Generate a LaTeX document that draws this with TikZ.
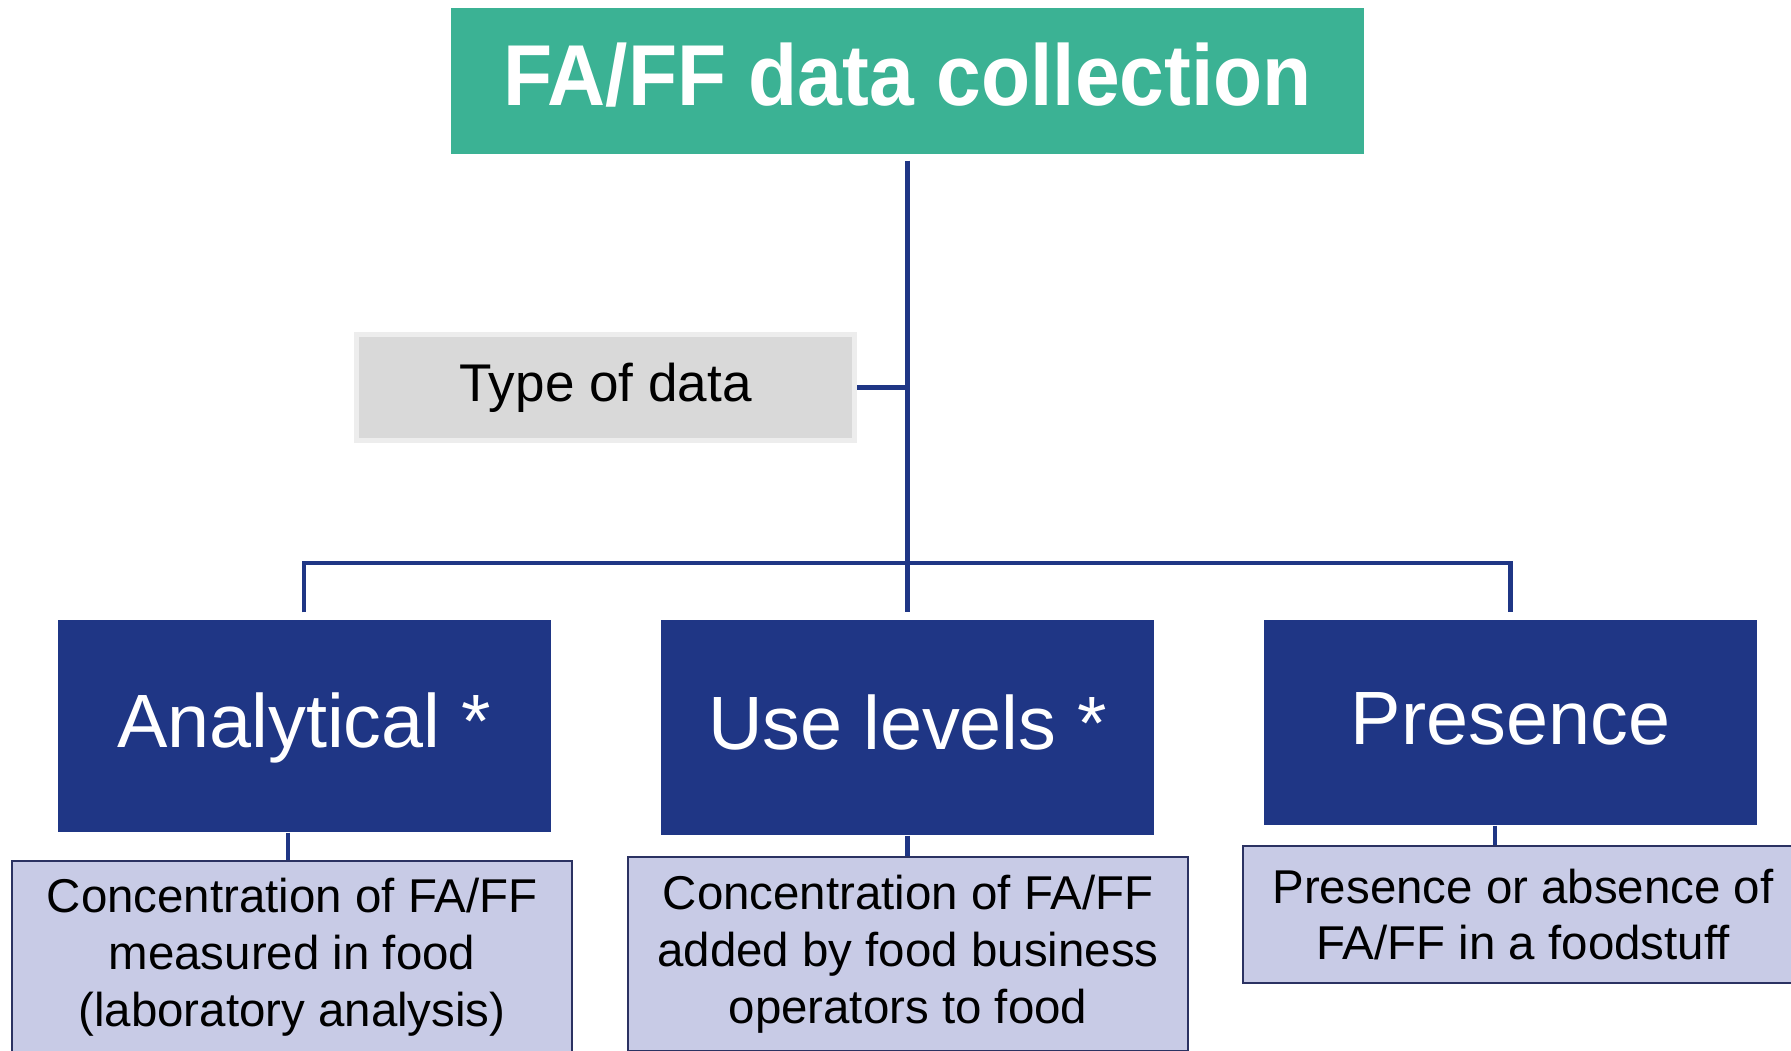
\documentclass[tikz,border=0pt]{standalone}
\usepackage{fontspec}
\setmainfont{Liberation Sans}
\newfontfamily\headfont{Liberation Sans}[FakeStretch=0.93]
\definecolor{faGreen}{HTML}{3BB294}
\definecolor{faBlue}{HTML}{1F3685}
\definecolor{faLilac}{HTML}{C8CBE6}
\definecolor{faNavy}{HTML}{2B3262}
\definecolor{faGrey}{HTML}{D9D9D9}
\definecolor{faGreyRim}{HTML}{EDEDED}
\begin{document}
\begin{tikzpicture}[
    link/.style={draw=faBlue, line width=1.2pt},
    kind/.style={fill=faBlue, text=white, minimum width=4.93cm, text height=15.5pt, text depth=3.2pt, font=\fontsize{21.5}{25}\selectfont},
    desc/.style={fill=faLilac, draw=faNavy, line width=0.6pt, minimum width=5.6cm, align=center, font=\fontsize{13.5}{16.2}\selectfont}]
  \useasboundingbox (0,0) rectangle (17.91,-10.5);
  \clip (0,0) rectangle (17.91,-10.5);
  % top and side boxes
  \node[fill=faGreen, text=white, minimum width=9.13cm, minimum height=1.46cm, text height=17.7pt, text depth=3.7pt, font=\headfont\bfseries\fontsize{24.6}{28}\selectfont] (title) at (9.075,-0.81) {FA/FF data collection};
  \node[fill=faGrey, draw=faGreyRim, line width=1.4pt, minimum width=4.985cm, minimum height=1.06cm, font=\fontsize{15.1}{18}\selectfont] (type) at (6.055,-3.875) {Type of data};
  % the three kinds
  \node[kind, minimum height=2.12cm] (ana) at (3.04,-7.26) {Analytical *};
  \node[kind, minimum height=2.15cm] (use) at (9.075,-7.275) {Use levels *};
  \node[kind, minimum height=2.05cm] (pres) at (15.105,-7.225) {Presence};
  \node[desc, minimum height=1.92cm] (anad) at (2.92,-9.57) {Concentration of FA/FF\\measured in food\\(laboratory analysis)};
  \node[desc, minimum height=1.94cm] (used) at (9.08,-9.54) {Concentration of FA/FF\\added by food business\\operators to food};
  \node[desc, minimum height=1.37cm] (presd) at (15.23,-9.145) {Presence or absence of\\FA/FF in a foodstuff};
  % tree
  \coordinate (hub) at (9.075,-5.63);
  \draw[link] ([yshift=-0.6mm]title.south) -- (hub);
  \draw[link] (type.east) -- (type.east -| hub);
  \draw[link] ([yshift=0.7mm]ana.north) |- (hub) -| ([yshift=0.7mm]pres.north);
  \draw[link] (hub) -- ([yshift=0.7mm]use.north);
  \draw[link] ([xshift=-1.6mm]ana.south) -- ([xshift=-1.6mm]ana.south |- anad.north);
  \draw[link] (use.south) -- (use.south |- used.north);
  \draw[link] ([xshift=-1.55mm]pres.south) -- ([xshift=-1.55mm]pres.south |- presd.north);
\end{tikzpicture}
\end{document}
